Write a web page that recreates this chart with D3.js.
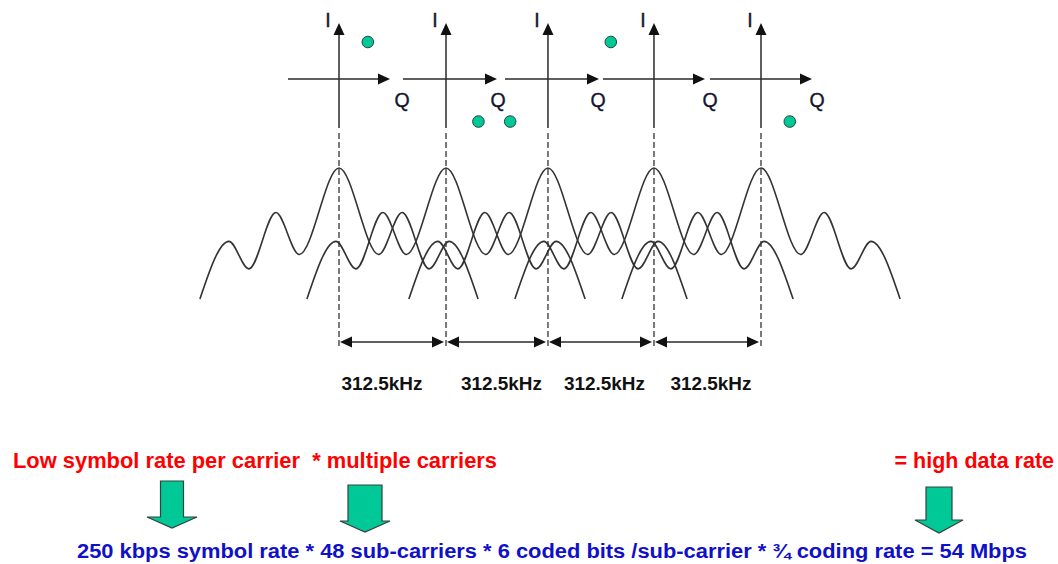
<!DOCTYPE html>
<html><head><meta charset="utf-8">
<script src="https://cdn.jsdelivr.net/npm/d3@7"></script>
<style>
body{margin:0;background:#fff}
svg{display:block}
text{font-family:"Liberation Sans",Arial,Helvetica,sans-serif}
</style>
</head><body>
<svg id="c" width="1058" height="564"></svg>
<script>
// ---------------- data ----------------
const carrierFreqs = [0, 317, 619, 933, 1250];            // kHz, relative centres of sub-carriers
const spacingLabels = ["312.5kHz", "312.5kHz", "312.5kHz", "312.5kHz"];
const profileOffsets = [-412, -326, -267, -187, -118, 0, 118, 187, 267, 326, 412]; // kHz from centre
const profileLevels  = [0, 0.44, 0.23, 0.66, 0.34, 1, 0.34, 0.66, 0.23, 0.44, 0];  // relative amplitude
const symbolQ = [0.8, 0.9, -1.05, -1.2, 0.8];              // constellation point, Q component
const symbolI = [1, -1.15, -1.15, 1, -1.15];               // constellation point, I component
const axisNames = ["I", "Q"];
const topLineParts = ["Low symbol rate per carrier  * multiple carriers", "= high data rate"];
const bottomLine = "250 kbps symbol rate * 48 sub-carriers * 6 coded bits /sub-carrier * \u00BE coding rate = 54 Mbps";

// ---------------- layout constants ----------------
const axisLeftExt = [51, 43, 43, 51, 51];
const qLabelDx = [63, 52, 50, 56, 56];
const spacingLabelDx = [-10, 5, 4, 4];
const blockArrows = [
  {cx: 172, top: 481, headY: 517, tip: 528, sh: 11.5, hh: 25},
  {cx: 365, top: 485, headY: 521, tip: 532, sh: 17, hh: 25},
  {cx: 939, top: 487, headY: 520, tip: 533, sh: 13, hh: 24}
];

const svg = d3.select("#c");
const x = d3.scaleLinear().domain([0, 1250]).range([339, 761]);
const yAmp = d3.scaleLinear().domain([0, 1]).range([299, 168]);
const iqX = d3.scaleLinear().domain([-1, 1]).range([-36, 36]);
const iqY = d3.scaleLinear().domain([-1, 1]).range([37, -37]);
const axisY = 79;
const ink = "#2a2a2a";
const labelInk = "#14142e";

// ---------------- constellation diagrams ----------------
const cons = svg.append("g");
carrierFreqs.forEach((f, i) => {
  const cx = x(f);
  const g = cons.append("g");
  g.append("line").attr("x1", cx).attr("x2", cx).attr("y1", 128).attr("y2", 34)
    .attr("stroke", ink).attr("stroke-width", 1.5);
  g.append("path").attr("d", `M${cx},23 L${cx - 5.5},35 L${cx + 5.5},35 Z`).attr("fill", "#111");
  const tip = cx + 51;
  g.append("line").attr("x1", cx - axisLeftExt[i]).attr("x2", tip - 10).attr("y1", axisY).attr("y2", axisY)
    .attr("stroke", ink).attr("stroke-width", 1.5);
  g.append("path").attr("d", `M${tip},${axisY} L${tip - 12},${axisY - 5.5} L${tip - 12},${axisY + 5.5} Z`).attr("fill", "#111");
  g.append("text").attr("x", cx - 11).attr("y", 27).attr("text-anchor", "middle")
    .attr("font-size", 19.5).attr("fill", labelInk).attr("stroke", labelInk).attr("stroke-width", 0.35)
    .text(axisNames[0]);
  g.append("text").attr("x", cx + qLabelDx[i]).attr("y", 107).attr("text-anchor", "middle")
    .attr("font-size", 19.5).attr("fill", labelInk).attr("stroke", labelInk).attr("stroke-width", 0.35)
    .text(axisNames[1]);
  g.append("circle").attr("cx", cx + iqX(symbolQ[i])).attr("cy", axisY + iqY(symbolI[i])).attr("r", 5.8)
    .attr("fill", "#00c896").attr("stroke", "#24463c").attr("stroke-width", 1);
});

// ---------------- dashed centre lines ----------------
svg.append("g").selectAll("line").data(carrierFreqs).join("line")
  .attr("x1", d => x(d)).attr("x2", d => x(d)).attr("y1", 133).attr("y2", 348)
  .attr("stroke", "#333").attr("stroke-width", 1.3).attr("stroke-dasharray", "6,3");

// ---------------- sub-carrier spectra ----------------
const line = d3.line().x(d => d[0]).y(d => d[1]).curve(d3.curveMonotoneX);
svg.append("g").selectAll("path").data(carrierFreqs).join("path")
  .attr("d", f => line(profileOffsets.map((o, k) => [x(f + o), yAmp(profileLevels[k])])))
  .attr("fill", "none").attr("stroke", "#333").attr("stroke-width", 1.6);

// ---------------- spacing arrows ----------------
const sp = svg.append("g");
const arrowY = 342;
spacingLabels.forEach((lab, i) => {
  const a = x(carrierFreqs[i]) + 1, b = x(carrierFreqs[i + 1]) - 2;
  sp.append("line").attr("x1", a + 8).attr("x2", b - 8).attr("y1", arrowY).attr("y2", arrowY)
    .attr("stroke", ink).attr("stroke-width", 1.5);
  sp.append("path").attr("d", `M${a},${arrowY} L${a + 12},${arrowY - 5.5} L${a + 12},${arrowY + 5.5} Z`).attr("fill", "#111");
  sp.append("path").attr("d", `M${b},${arrowY} L${b - 12},${arrowY - 5.5} L${b - 12},${arrowY + 5.5} Z`).attr("fill", "#111");
  sp.append("text").attr("x", (a + b) / 2 + spacingLabelDx[i]).attr("y", 390).attr("text-anchor", "middle")
    .attr("font-size", 19).attr("font-weight", "bold").attr("fill", "#111")
    .attr("textLength", 81).attr("lengthAdjust", "spacingAndGlyphs").text(lab);
});

// ---------------- bottom equation ----------------
svg.append("text").attr("x", 13).attr("y", 468).attr("font-size", 21.5).attr("font-weight", "bold")
  .attr("fill", "#ff0000").attr("xml:space", "preserve").style("white-space", "pre")
  .attr("textLength", 484).attr("lengthAdjust", "spacingAndGlyphs").text(topLineParts[0]);
svg.append("text").attr("x", 1054).attr("y", 468).attr("text-anchor", "end").attr("font-size", 21.5).attr("font-weight", "bold")
  .attr("fill", "#ff0000").text(topLineParts[1]);
svg.append("text").attr("x", 77).attr("y", 558).attr("font-size", 20).attr("font-weight", "bold")
  .attr("fill", "#1010c8").attr("textLength", 950).attr("lengthAdjust", "spacingAndGlyphs").text(bottomLine);

svg.append("g").selectAll("path").data(blockArrows).join("path")
  .attr("d", d => `M${d.cx - d.sh},${d.top} L${d.cx + d.sh},${d.top} L${d.cx + d.sh},${d.headY} L${d.cx + d.hh},${d.headY} L${d.cx},${d.tip} L${d.cx - d.hh},${d.headY} L${d.cx - d.sh},${d.headY} Z`)
  .attr("fill", "#00c896").attr("stroke", "#33423c").attr("stroke-width", 1.2).attr("stroke-linejoin", "miter");
</script>
</body></html>
